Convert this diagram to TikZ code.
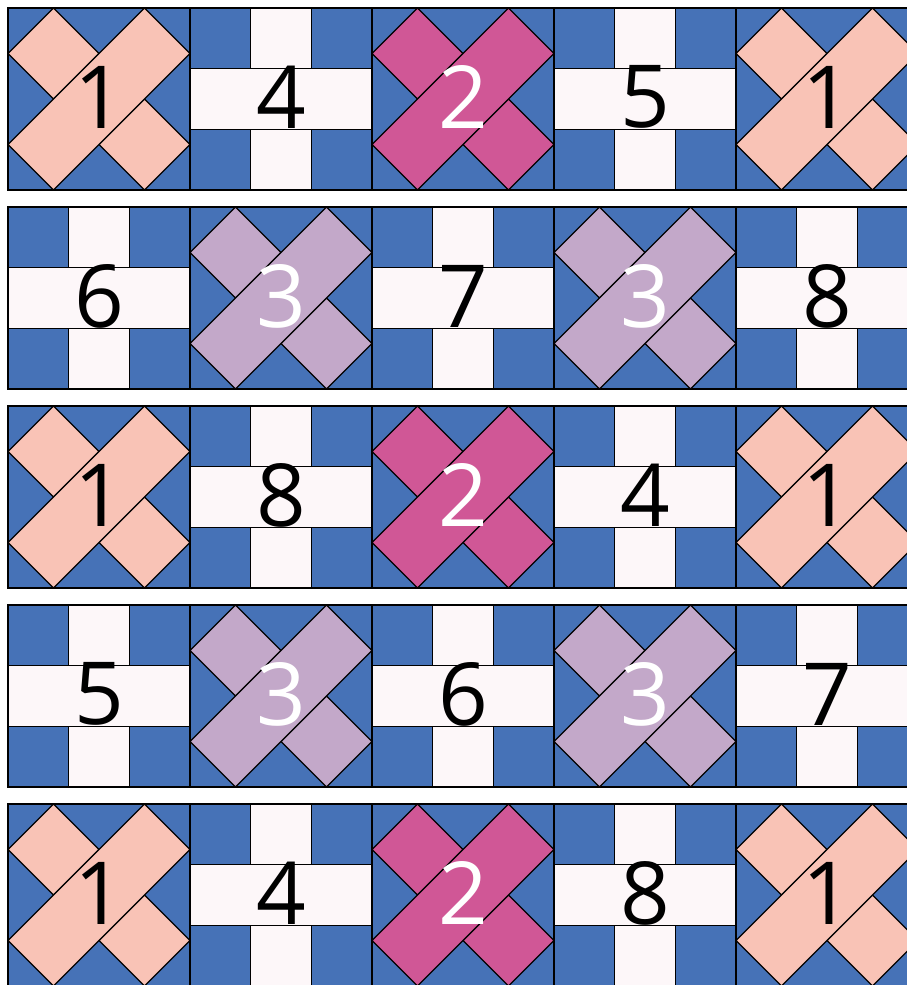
\documentclass[tikz,border=0pt]{standalone}
\usepackage{fontspec}
\setmainfont{Open Sans}
\definecolor{qblue}{HTML}{4672B7}
\definecolor{qwhite}{HTML}{FDF7F9}
\definecolor{qpink}{HTML}{F9C3B6}
\definecolor{qmag}{HTML}{D05796}
\definecolor{qlav}{HTML}{C3A8C9}
\tikzset{
  piece/.style={draw=black, line width=1.1pt, line join=miter},
  num/.style={inner sep=0pt, font=\fontsize{87}{87}\selectfont},
}
% X block: col, row, fill colour, number, text colour
\newcommand{\qxblock}[5]{%
  \begin{scope}[xshift={(8+182*#1)*1pt}, yshift={-(8+199*#2)*1pt}, x=182pt, y=-182pt]
    \fill[qblue, piece] (0,0) rectangle (1,1);
    \fill[#3, piece] (0.25,0) -- (0.5,0.25) -- (0.25,0.5) -- (0,0.25) -- cycle;
    \fill[#3, piece] (0.75,0.5) -- (1,0.75) -- (0.75,1) -- (0.5,0.75) -- cycle;
    \fill[#3, piece] (0.75,0) -- (1,0.25) -- (0.25,1) -- (0,0.75) -- cycle;
    \node[num, text=#5] (n#1#2) at (0.5,0.49) {#4};
  \end{scope}}
% plus block: col, row, number
\newcommand{\qpblock}[3]{%
  \begin{scope}[xshift={(8+182*#1)*1pt}, yshift={-(8+199*#2)*1pt}, x=182pt, y=-182pt]
    \fill[qblue, piece] (0,0) rectangle (1,1);
    \fill[qwhite, piece] (1/3,0) rectangle (2/3,1/3);
    \fill[qwhite, piece] (1/3,2/3) rectangle (2/3,1);
    \fill[qwhite, piece] (0,1/3) rectangle (1,2/3);
    \node[num, text=black] (n#1#2) at (0.5,0.49) {#3};
  \end{scope}}
\begin{document}
\begin{tikzpicture}
  \useasboundingbox (0,0) rectangle (907pt,-985pt);
  \begin{scope}
  \clip (0,0) rectangle (907pt,-985pt);
  \fill[white] (0,0) rectangle (907pt,-985pt);
  % row 1
  \qxblock{0}{0}{qpink}{1}{black}
  \qpblock{1}{0}{4}
  \qxblock{2}{0}{qmag}{2}{white}
  \qpblock{3}{0}{5}
  \qxblock{4}{0}{qpink}{1}{black}
  % row 2
  \qpblock{0}{1}{6}
  \qxblock{1}{1}{qlav}{3}{white}
  \qpblock{2}{1}{7}
  \qxblock{3}{1}{qlav}{3}{white}
  \qpblock{4}{1}{8}
  % row 3
  \qxblock{0}{2}{qpink}{1}{black}
  \qpblock{1}{2}{8}
  \qxblock{2}{2}{qmag}{2}{white}
  \qpblock{3}{2}{4}
  \qxblock{4}{2}{qpink}{1}{black}
  % row 4
  \qpblock{0}{3}{5}
  \qxblock{1}{3}{qlav}{3}{white}
  \qpblock{2}{3}{6}
  \qxblock{3}{3}{qlav}{3}{white}
  \qpblock{4}{3}{7}
  % row 5
  \qxblock{0}{4}{qpink}{1}{black}
  \qpblock{1}{4}{4}
  \qxblock{2}{4}{qmag}{2}{white}
  \qpblock{3}{4}{8}
  \qxblock{4}{4}{qpink}{1}{black}
  \end{scope}
\end{tikzpicture}
\end{document}
